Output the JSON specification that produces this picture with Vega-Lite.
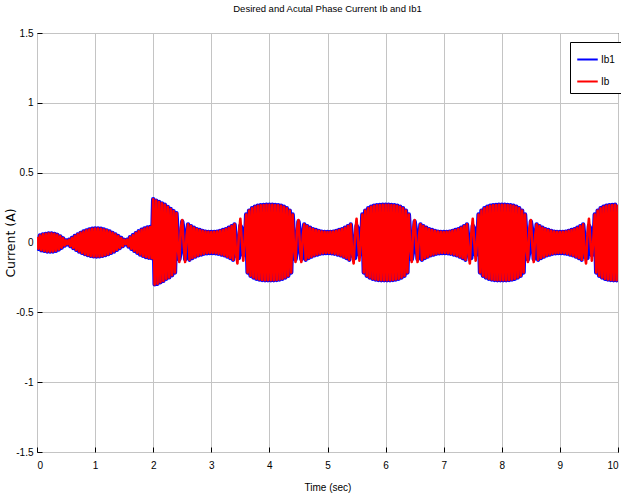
{
"$schema":"https://vega.github.io/schema/vega-lite/v6.json",
"width":581,"height":419,
"autosize":{"type":"none"},
"padding":{"left":37,"top":33,"right":3,"bottom":47},
"background":"white",
"config":{"view":{"stroke":"black","strokeWidth":1},"font":"Liberation Sans"},
"title":{"text":"Desired and Acutal Phase Current Ib and Ib1","fontSize":9.5,"fontWeight":"normal","font":"Liberation Sans","color":"black","anchor":"middle","offset":15},
"data":{"values":[
{"t":0,"a":0.04,"b":0.04},{"t":0.025,"a":-0.045,"b":-0.045},{"t":0.05,"a":0.05,"b":0.05},{"t":0.075,"a":-0.055,"b":-0.055},{"t":0.1,"a":0.058,"b":0.058},{"t":0.125,"a":-0.06,"b":-0.06},{"t":0.15,"a":0.062,"b":0.062},{"t":0.175,"a":-0.064,"b":-0.064},{"t":0.2,"a":0.065,"b":0.065},{"t":0.225,"a":-0.065,"b":-0.065},{"t":0.25,"a":0.065,"b":0.065},{"t":0.275,"a":-0.064,"b":-0.064},{"t":0.3,"a":0.062,"b":0.062},{"t":0.325,"a":-0.059,"b":-0.059},{"t":0.35,"a":0.055,"b":0.055},{"t":0.375,"a":-0.05,"b":-0.05},{"t":0.4,"a":0.044,"b":0.044},{"t":0.425,"a":-0.037,"b":-0.037},{"t":0.45,"a":0.03,"b":0.03},{"t":0.475,"a":-0.022,"b":-0.022},{"t":0.5,"a":0.015,"b":0.015},{"t":0.525,"a":-0.012,"b":-0.012},
{"t":0.55,"a":0.019,"b":0.019},{"t":0.575,"a":-0.026,"b":-0.026},{"t":0.6,"a":0.032,"b":0.032},{"t":0.625,"a":-0.039,"b":-0.039},{"t":0.65,"a":0.046,"b":0.046},{"t":0.675,"a":-0.052,"b":-0.052},{"t":0.7,"a":0.058,"b":0.058},{"t":0.725,"a":-0.064,"b":-0.064},{"t":0.75,"a":0.069,"b":0.069},{"t":0.775,"a":-0.074,"b":-0.074},{"t":0.8,"a":0.079,"b":0.079},{"t":0.825,"a":-0.083,"b":-0.083},{"t":0.85,"a":0.087,"b":0.087},{"t":0.875,"a":-0.09,"b":-0.09},{"t":0.9,"a":0.093,"b":0.093},{"t":0.925,"a":-0.096,"b":-0.096},{"t":0.95,"a":0.098,"b":0.098},{"t":0.975,"a":-0.099,"b":-0.099},{"t":1,"a":0.1,"b":0.1},{"t":1.025,"a":-0.1,"b":-0.1},{"t":1.05,"a":0.1,"b":0.1},{"t":1.075,"a":-0.099,"b":-0.099},{"t":1.1,"a":0.098,"b":0.098},{"t":1.125,"a":-0.096,"b":-0.096},{"t":1.15,"a":0.093,"b":0.093},{"t":1.175,"a":-0.09,"b":-0.09},{"t":1.2,"a":0.087,"b":0.087},{"t":1.225,"a":-0.083,"b":-0.083},{"t":1.25,"a":0.079,"b":0.079},{"t":1.275,"a":-0.074,"b":-0.074},{"t":1.3,"a":0.069,"b":0.069},{"t":1.325,"a":-0.064,"b":-0.064},{"t":1.35,"a":0.058,"b":0.058},{"t":1.375,"a":-0.052,"b":-0.052},{"t":1.4,"a":0.046,"b":0.046},{"t":1.425,"a":-0.039,"b":-0.039},{"t":1.45,"a":0.032,"b":0.032},{"t":1.475,"a":-0.026,"b":-0.026},{"t":1.5,"a":0.019,"b":0.019},{"t":1.525,"a":-0.012,"b":-0.012},
{"t":1.55,"a":0.02,"b":0.02},{"t":1.575,"a":-0.028,"b":-0.028},{"t":1.6,"a":0.037,"b":0.037},{"t":1.625,"a":-0.045,"b":-0.045},{"t":1.65,"a":0.052,"b":0.052},{"t":1.675,"a":-0.06,"b":-0.06},{"t":1.7,"a":0.067,"b":0.067},{"t":1.725,"a":-0.073,"b":-0.073},{"t":1.75,"a":0.08,"b":0.08},{"t":1.775,"a":-0.086,"b":-0.086},{"t":1.8,"a":0.091,"b":0.091},{"t":1.825,"a":-0.096,"b":-0.096},{"t":1.85,"a":0.1,"b":0.1},{"t":1.875,"a":-0.104,"b":-0.104},{"t":1.9,"a":0.107,"b":0.107},{"t":1.925,"a":-0.109,"b":-0.109},{"t":1.95,"a":0.111,"b":0.111},{"t":1.975,"a":-0.112,"b":-0.112},
{"t":2,"a":0.31,"b":0.31},{"t":2.025,"a":-0.3,"b":-0.3},{"t":2.05,"a":0.3,"b":0.3},{"t":2.075,"a":-0.295,"b":-0.295},{"t":2.1,"a":0.29,"b":0.29},{"t":2.125,"a":-0.285,"b":-0.285},{"t":2.15,"a":0.28,"b":0.28},{"t":2.175,"a":-0.275,"b":-0.275},{"t":2.2,"a":0.27,"b":0.27},{"t":2.225,"a":-0.26,"b":-0.26},{"t":2.25,"a":0.255,"b":0.255},{"t":2.275,"a":-0.25,"b":-0.25},{"t":2.3,"a":0.24,"b":0.24},{"t":2.325,"a":-0.235,"b":-0.235},{"t":2.35,"a":0.225,"b":0.225},{"t":2.375,"a":-0.215,"b":-0.215},{"t":2.4,"a":0.21,"b":0.21},
{"t":2.425,"a":0.03,"b":-0.05},{"t":2.45,"a":-0.12,"b":-0.14},{"t":2.475,"a":-0.06,"b":0.1},{"t":2.5,"a":0.15,"b":0.16},{"t":2.525,"a":0.08,"b":-0.02},{"t":2.55,"a":-0.12,"b":-0.14},{"t":2.575,"a":-0.03,"b":0.05},
{"t":2.6,"a":0.13,"b":0.13},{"t":2.625,"a":-0.123,"b":-0.123},{"t":2.65,"a":0.117,"b":0.117},{"t":2.675,"a":-0.111,"b":-0.111},{"t":2.7,"a":0.106,"b":0.106},{"t":2.725,"a":-0.101,"b":-0.101},{"t":2.75,"a":0.096,"b":0.096},{"t":2.775,"a":-0.092,"b":-0.092},{"t":2.8,"a":0.089,"b":0.089},{"t":2.825,"a":-0.086,"b":-0.086},{"t":2.85,"a":0.083,"b":0.083},{"t":2.875,"a":-0.08,"b":-0.08},{"t":2.9,"a":0.078,"b":0.078},{"t":2.925,"a":-0.077,"b":-0.077},{"t":2.95,"a":0.076,"b":0.076},{"t":2.975,"a":-0.075,"b":-0.075},{"t":3,"a":0.075,"b":0.075},{"t":3.025,"a":-0.075,"b":-0.075},{"t":3.05,"a":0.076,"b":0.076},{"t":3.075,"a":-0.077,"b":-0.077},{"t":3.1,"a":0.078,"b":0.078},{"t":3.125,"a":-0.08,"b":-0.08},{"t":3.15,"a":0.083,"b":0.083},{"t":3.175,"a":-0.086,"b":-0.086},{"t":3.2,"a":0.089,"b":0.089},{"t":3.225,"a":-0.092,"b":-0.092},{"t":3.25,"a":0.096,"b":0.096},{"t":3.275,"a":-0.101,"b":-0.101},{"t":3.3,"a":0.106,"b":0.106},{"t":3.325,"a":-0.111,"b":-0.111},{"t":3.35,"a":0.117,"b":0.117},{"t":3.375,"a":-0.123,"b":-0.123},{"t":3.4,"a":0.13,"b":0.13},
{"t":3.425,"a":0.02,"b":-0.08},{"t":3.45,"a":-0.1,"b":-0.15},{"t":3.475,"a":-0.11,"b":0.06},{"t":3.5,"a":0.12,"b":0.17},{"t":3.525,"a":0.1,"b":0.01},{"t":3.55,"a":-0.09,"b":-0.13},{"t":3.575,"a":-0.06,"b":0.02},
{"t":3.6,"a":0.2,"b":0.2},{"t":3.625,"a":-0.215,"b":-0.215},{"t":3.65,"a":0.228,"b":0.228},{"t":3.675,"a":-0.238,"b":-0.238},{"t":3.7,"a":0.245,"b":0.245},{"t":3.725,"a":-0.251,"b":-0.251},{"t":3.75,"a":0.256,"b":0.256},{"t":3.775,"a":-0.26,"b":-0.26},{"t":3.8,"a":0.263,"b":0.263},{"t":3.825,"a":-0.265,"b":-0.265},{"t":3.85,"a":0.267,"b":0.267},{"t":3.875,"a":-0.268,"b":-0.268},{"t":3.9,"a":0.269,"b":0.269},{"t":3.925,"a":-0.27,"b":-0.27},{"t":3.95,"a":0.27,"b":0.27},{"t":3.975,"a":-0.27,"b":-0.27},{"t":4,"a":0.27,"b":0.27},{"t":4.025,"a":-0.27,"b":-0.27},{"t":4.05,"a":0.27,"b":0.27},{"t":4.075,"a":-0.27,"b":-0.27},{"t":4.1,"a":0.269,"b":0.269},{"t":4.125,"a":-0.268,"b":-0.268},{"t":4.15,"a":0.267,"b":0.267},{"t":4.175,"a":-0.265,"b":-0.265},{"t":4.2,"a":0.263,"b":0.263},{"t":4.225,"a":-0.26,"b":-0.26},{"t":4.25,"a":0.256,"b":0.256},{"t":4.275,"a":-0.251,"b":-0.251},{"t":4.3,"a":0.245,"b":0.245},{"t":4.325,"a":-0.238,"b":-0.238},{"t":4.35,"a":0.228,"b":0.228},{"t":4.375,"a":-0.215,"b":-0.215},{"t":4.4,"a":0.2,"b":0.2},
{"t":4.425,"a":0.03,"b":-0.05},{"t":4.45,"a":-0.12,"b":-0.14},{"t":4.475,"a":-0.06,"b":0.1},{"t":4.5,"a":0.15,"b":0.16},{"t":4.525,"a":0.08,"b":-0.02},{"t":4.55,"a":-0.12,"b":-0.14},{"t":4.575,"a":-0.03,"b":0.05},
{"t":4.6,"a":0.13,"b":0.13},{"t":4.625,"a":-0.123,"b":-0.123},{"t":4.65,"a":0.117,"b":0.117},{"t":4.675,"a":-0.111,"b":-0.111},{"t":4.7,"a":0.106,"b":0.106},{"t":4.725,"a":-0.101,"b":-0.101},{"t":4.75,"a":0.096,"b":0.096},{"t":4.775,"a":-0.092,"b":-0.092},{"t":4.8,"a":0.089,"b":0.089},{"t":4.825,"a":-0.086,"b":-0.086},{"t":4.85,"a":0.083,"b":0.083},{"t":4.875,"a":-0.08,"b":-0.08},{"t":4.9,"a":0.078,"b":0.078},{"t":4.925,"a":-0.077,"b":-0.077},{"t":4.95,"a":0.076,"b":0.076},{"t":4.975,"a":-0.075,"b":-0.075},{"t":5,"a":0.075,"b":0.075},{"t":5.025,"a":-0.075,"b":-0.075},{"t":5.05,"a":0.076,"b":0.076},{"t":5.075,"a":-0.077,"b":-0.077},{"t":5.1,"a":0.078,"b":0.078},{"t":5.125,"a":-0.08,"b":-0.08},{"t":5.15,"a":0.083,"b":0.083},{"t":5.175,"a":-0.086,"b":-0.086},{"t":5.2,"a":0.089,"b":0.089},{"t":5.225,"a":-0.092,"b":-0.092},{"t":5.25,"a":0.096,"b":0.096},{"t":5.275,"a":-0.101,"b":-0.101},{"t":5.3,"a":0.106,"b":0.106},{"t":5.325,"a":-0.111,"b":-0.111},{"t":5.35,"a":0.117,"b":0.117},{"t":5.375,"a":-0.123,"b":-0.123},{"t":5.4,"a":0.13,"b":0.13},
{"t":5.425,"a":0.02,"b":-0.08},{"t":5.45,"a":-0.1,"b":-0.15},{"t":5.475,"a":-0.11,"b":0.06},{"t":5.5,"a":0.12,"b":0.17},{"t":5.525,"a":0.1,"b":0.01},{"t":5.55,"a":-0.09,"b":-0.13},{"t":5.575,"a":-0.06,"b":0.02},
{"t":5.6,"a":0.2,"b":0.2},{"t":5.625,"a":-0.215,"b":-0.215},{"t":5.65,"a":0.228,"b":0.228},{"t":5.675,"a":-0.238,"b":-0.238},{"t":5.7,"a":0.245,"b":0.245},{"t":5.725,"a":-0.251,"b":-0.251},{"t":5.75,"a":0.256,"b":0.256},{"t":5.775,"a":-0.26,"b":-0.26},{"t":5.8,"a":0.263,"b":0.263},{"t":5.825,"a":-0.265,"b":-0.265},{"t":5.85,"a":0.267,"b":0.267},{"t":5.875,"a":-0.268,"b":-0.268},{"t":5.9,"a":0.269,"b":0.269},{"t":5.925,"a":-0.27,"b":-0.27},{"t":5.95,"a":0.27,"b":0.27},{"t":5.975,"a":-0.27,"b":-0.27},{"t":6,"a":0.27,"b":0.27},{"t":6.025,"a":-0.27,"b":-0.27},{"t":6.05,"a":0.27,"b":0.27},{"t":6.075,"a":-0.27,"b":-0.27},{"t":6.1,"a":0.269,"b":0.269},{"t":6.125,"a":-0.268,"b":-0.268},{"t":6.15,"a":0.267,"b":0.267},{"t":6.175,"a":-0.265,"b":-0.265},{"t":6.2,"a":0.263,"b":0.263},{"t":6.225,"a":-0.26,"b":-0.26},{"t":6.25,"a":0.256,"b":0.256},{"t":6.275,"a":-0.251,"b":-0.251},{"t":6.3,"a":0.245,"b":0.245},{"t":6.325,"a":-0.238,"b":-0.238},{"t":6.35,"a":0.228,"b":0.228},{"t":6.375,"a":-0.215,"b":-0.215},{"t":6.4,"a":0.2,"b":0.2},
{"t":6.425,"a":0.03,"b":-0.05},{"t":6.45,"a":-0.12,"b":-0.14},{"t":6.475,"a":-0.06,"b":0.1},{"t":6.5,"a":0.15,"b":0.16},{"t":6.525,"a":0.08,"b":-0.02},{"t":6.55,"a":-0.12,"b":-0.14},{"t":6.575,"a":-0.03,"b":0.05},
{"t":6.6,"a":0.13,"b":0.13},{"t":6.625,"a":-0.123,"b":-0.123},{"t":6.65,"a":0.117,"b":0.117},{"t":6.675,"a":-0.111,"b":-0.111},{"t":6.7,"a":0.106,"b":0.106},{"t":6.725,"a":-0.101,"b":-0.101},{"t":6.75,"a":0.096,"b":0.096},{"t":6.775,"a":-0.092,"b":-0.092},{"t":6.8,"a":0.089,"b":0.089},{"t":6.825,"a":-0.086,"b":-0.086},{"t":6.85,"a":0.083,"b":0.083},{"t":6.875,"a":-0.08,"b":-0.08},{"t":6.9,"a":0.078,"b":0.078},{"t":6.925,"a":-0.077,"b":-0.077},{"t":6.95,"a":0.076,"b":0.076},{"t":6.975,"a":-0.075,"b":-0.075},{"t":7,"a":0.075,"b":0.075},{"t":7.025,"a":-0.075,"b":-0.075},{"t":7.05,"a":0.076,"b":0.076},{"t":7.075,"a":-0.077,"b":-0.077},{"t":7.1,"a":0.078,"b":0.078},{"t":7.125,"a":-0.08,"b":-0.08},{"t":7.15,"a":0.083,"b":0.083},{"t":7.175,"a":-0.086,"b":-0.086},{"t":7.2,"a":0.089,"b":0.089},{"t":7.225,"a":-0.092,"b":-0.092},{"t":7.25,"a":0.096,"b":0.096},{"t":7.275,"a":-0.101,"b":-0.101},{"t":7.3,"a":0.106,"b":0.106},{"t":7.325,"a":-0.111,"b":-0.111},{"t":7.35,"a":0.117,"b":0.117},{"t":7.375,"a":-0.123,"b":-0.123},{"t":7.4,"a":0.13,"b":0.13},
{"t":7.425,"a":0.02,"b":-0.08},{"t":7.45,"a":-0.1,"b":-0.15},{"t":7.475,"a":-0.11,"b":0.06},{"t":7.5,"a":0.12,"b":0.17},{"t":7.525,"a":0.1,"b":0.01},{"t":7.55,"a":-0.09,"b":-0.13},{"t":7.575,"a":-0.06,"b":0.02},
{"t":7.6,"a":0.2,"b":0.2},{"t":7.625,"a":-0.215,"b":-0.215},{"t":7.65,"a":0.228,"b":0.228},{"t":7.675,"a":-0.238,"b":-0.238},{"t":7.7,"a":0.245,"b":0.245},{"t":7.725,"a":-0.251,"b":-0.251},{"t":7.75,"a":0.256,"b":0.256},{"t":7.775,"a":-0.26,"b":-0.26},{"t":7.8,"a":0.263,"b":0.263},{"t":7.825,"a":-0.265,"b":-0.265},{"t":7.85,"a":0.267,"b":0.267},{"t":7.875,"a":-0.268,"b":-0.268},{"t":7.9,"a":0.269,"b":0.269},{"t":7.925,"a":-0.27,"b":-0.27},{"t":7.95,"a":0.27,"b":0.27},{"t":7.975,"a":-0.27,"b":-0.27},{"t":8,"a":0.27,"b":0.27},{"t":8.025,"a":-0.27,"b":-0.27},{"t":8.05,"a":0.27,"b":0.27},{"t":8.075,"a":-0.27,"b":-0.27},{"t":8.1,"a":0.269,"b":0.269},{"t":8.125,"a":-0.268,"b":-0.268},{"t":8.15,"a":0.267,"b":0.267},{"t":8.175,"a":-0.265,"b":-0.265},{"t":8.2,"a":0.263,"b":0.263},{"t":8.225,"a":-0.26,"b":-0.26},{"t":8.25,"a":0.256,"b":0.256},{"t":8.275,"a":-0.251,"b":-0.251},{"t":8.3,"a":0.245,"b":0.245},{"t":8.325,"a":-0.238,"b":-0.238},{"t":8.35,"a":0.228,"b":0.228},{"t":8.375,"a":-0.215,"b":-0.215},{"t":8.4,"a":0.2,"b":0.2},
{"t":8.425,"a":0.03,"b":-0.05},{"t":8.45,"a":-0.12,"b":-0.14},{"t":8.475,"a":-0.06,"b":0.1},{"t":8.5,"a":0.15,"b":0.16},{"t":8.525,"a":0.08,"b":-0.02},{"t":8.55,"a":-0.12,"b":-0.14},{"t":8.575,"a":-0.03,"b":0.05},
{"t":8.6,"a":0.13,"b":0.13},{"t":8.625,"a":-0.123,"b":-0.123},{"t":8.65,"a":0.117,"b":0.117},{"t":8.675,"a":-0.111,"b":-0.111},{"t":8.7,"a":0.106,"b":0.106},{"t":8.725,"a":-0.101,"b":-0.101},{"t":8.75,"a":0.096,"b":0.096},{"t":8.775,"a":-0.092,"b":-0.092},{"t":8.8,"a":0.089,"b":0.089},{"t":8.825,"a":-0.086,"b":-0.086},{"t":8.85,"a":0.083,"b":0.083},{"t":8.875,"a":-0.08,"b":-0.08},{"t":8.9,"a":0.078,"b":0.078},{"t":8.925,"a":-0.077,"b":-0.077},{"t":8.95,"a":0.076,"b":0.076},{"t":8.975,"a":-0.075,"b":-0.075},{"t":9,"a":0.075,"b":0.075},{"t":9.025,"a":-0.075,"b":-0.075},{"t":9.05,"a":0.076,"b":0.076},{"t":9.075,"a":-0.077,"b":-0.077},{"t":9.1,"a":0.078,"b":0.078},{"t":9.125,"a":-0.08,"b":-0.08},{"t":9.15,"a":0.083,"b":0.083},{"t":9.175,"a":-0.086,"b":-0.086},{"t":9.2,"a":0.089,"b":0.089},{"t":9.225,"a":-0.092,"b":-0.092},{"t":9.25,"a":0.096,"b":0.096},{"t":9.275,"a":-0.101,"b":-0.101},{"t":9.3,"a":0.106,"b":0.106},{"t":9.325,"a":-0.111,"b":-0.111},{"t":9.35,"a":0.117,"b":0.117},{"t":9.375,"a":-0.123,"b":-0.123},{"t":9.4,"a":0.13,"b":0.13},
{"t":9.425,"a":0.02,"b":-0.08},{"t":9.45,"a":-0.1,"b":-0.15},{"t":9.475,"a":-0.11,"b":0.06},{"t":9.5,"a":0.12,"b":0.17},{"t":9.525,"a":0.1,"b":0.01},{"t":9.55,"a":-0.09,"b":-0.13},{"t":9.575,"a":-0.06,"b":0.02},
{"t":9.6,"a":0.2,"b":0.2},{"t":9.625,"a":-0.215,"b":-0.215},{"t":9.65,"a":0.228,"b":0.228},{"t":9.675,"a":-0.238,"b":-0.238},{"t":9.7,"a":0.245,"b":0.245},{"t":9.725,"a":-0.251,"b":-0.251},{"t":9.75,"a":0.256,"b":0.256},{"t":9.775,"a":-0.26,"b":-0.26},{"t":9.8,"a":0.263,"b":0.263},{"t":9.825,"a":-0.265,"b":-0.265},{"t":9.85,"a":0.267,"b":0.267},{"t":9.875,"a":-0.268,"b":-0.268},{"t":9.9,"a":0.269,"b":0.269},{"t":9.925,"a":-0.27,"b":-0.27},{"t":9.95,"a":0.27,"b":0.27},{"t":9.975,"a":-0.27,"b":-0.27},{"t":10,"a":0.27,"b":0.27}
]},
"layer":[
{"mark":{"type":"line","strokeWidth":4.4,"strokeJoin":"round","clip":true},
 "encoding":{
  "x":{"field":"t","type":"quantitative","scale":{"domain":[0,10],"nice":false,"zero":false},
   "axis":{"title":"Time (sec)","values":[0,1,2,3,4,5,6,7,8,9,10],"format":"d","grid":true,"gridColor":"#c4c4c4","gridWidth":1,"domain":false,"ticks":true,"tickSize":-5,"tickColor":"black","labelOverlap":false,"labelFontSize":10,"labelColor":"black","labelPadding":13,"titleFontSize":10,"titleFontWeight":"normal","titleColor":"black","titlePadding":12,"labelFont":"Liberation Sans","titleFont":"Liberation Sans"}},
  "y":{"field":"a","type":"quantitative","scale":{"domain":[-1.5,1.5],"nice":false,"zero":false},
   "axis":{"title":"Current (A)","values":[-1.5,-1,-0.5,0,0.5,1,1.5],"labelExpr":"'' + datum.value","grid":true,"gridColor":"#c4c4c4","gridWidth":1,"domain":false,"ticks":true,"tickSize":-5,"tickColor":"black","labelOverlap":false,"labelFontSize":10,"labelColor":"black","labelPadding":9,"titleFontSize":12.5,"titleFontWeight":"normal","titleColor":"black","titlePadding":-2,"labelFont":"Liberation Sans","titleFont":"DejaVu Sans"}},
  "color":{"datum":"Ib1","type":"nominal","scale":{"domain":["Ib1","Ib"],"range":["#0000ff","#ff0000"]},
   "legend":{"orient":"none","legendX":533,"legendY":9,"title":null,"strokeColor":"black","fillColor":"white","padding":6,"symbolType":"stroke","symbolSize":420,"symbolStrokeWidth":2,"labelFontSize":10,"labelColor":"black","rowPadding":5,"labelOffset":2,"labelFont":"Liberation Sans"}}
 }},
{"mark":{"type":"line","strokeWidth":2.6,"strokeJoin":"round","clip":true},
 "encoding":{
  "x":{"field":"t","type":"quantitative"},
  "y":{"field":"b","type":"quantitative"},
  "color":{"datum":"Ib","type":"nominal"}
 }}
]
}
